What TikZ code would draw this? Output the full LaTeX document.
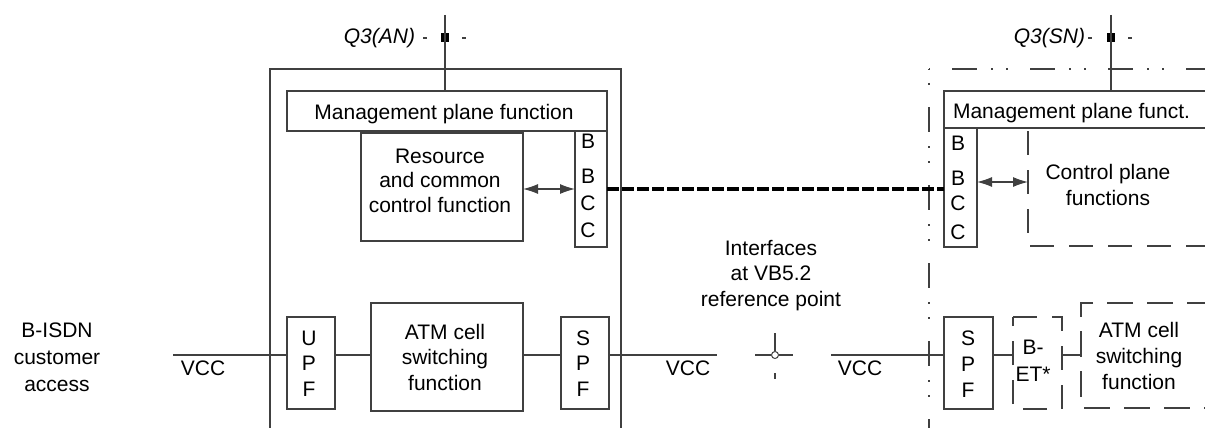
\documentclass[tikz,border=0pt]{standalone}
\usepackage{fontspec}
\setmainfont{Liberation Sans}
\usetikzlibrary{arrows.meta}
\begin{document}
\begin{tikzpicture}[x=1pt,y=-1pt,
  ln/.style={draw=black!75, line width=1.2pt},
  box/.style={ln, rectangle, inner sep=0pt, outer sep=0pt},
  hid/.style={rectangle, inner sep=0pt, outer sep=0pt},
  txt/.style={inner sep=0pt, outer sep=0pt, font=\fontsize{21}{25.5}\selectfont, align=center, anchor=base, text=black},
  dsh/.style={ln, dash pattern=on 24pt off 15pt},
  dashdot/.style={ln, dash pattern=on 25pt off 14pt on 2pt off 13pt on 2pt off 22pt},
  biarrow/.style={ln, {Latex[length=15pt,width=10pt]}-{Latex[length=15pt,width=10pt]}},
  bus/.style={draw=black, line width=3.5pt, dash pattern=on 11.5pt off 3.5pt},
  sq/.style={fill=black, minimum width=8pt, minimum height=9pt, inner sep=0pt}
]
\useasboundingbox (0,0) rectangle (1205,428);
\clip (0,0) rectangle (1205,428);

% ---------------- AN side ----------------
\node[box, minimum width=351pt, minimum height=371pt] (anBox) at (445.5,254.5) {};
\node[box, minimum width=320pt, minimum height=40pt] (mgA) at (447,111) {};
\node[txt] (mgAt) at (444,119) {Management plane function};
\node[box, minimum width=162pt, minimum height=108pt] (resA) at (442,187) {};
\node[txt, font=\fontsize{21}{24.5}\selectfont] (resAt) at (440,212) {Resource\\and common\\control function};
\node[box, minimum width=32pt, minimum height=116pt] (bbA) at (591,189) {};
\node[txt] (bbA1) at (588,148) {B};
\node[txt] (bbA2) at (588,183) {B};
\node[txt] (bbA3) at (588,210) {C};
\node[txt] (bbA4) at (588,237) {C};

\node[box, minimum width=48pt, minimum height=92pt] (upf) at (311,363) {};
\node[txt] (upft) at (309,396) {U\\P\\F};
\node[box, minimum width=152pt, minimum height=108pt] (atmA) at (447,357) {};
\node[txt] (atmAt) at (445,390) {ATM cell\\switching\\function};
\node[box, minimum width=48pt, minimum height=92pt] (spfA) at (585,363) {};
\node[txt] (spfAt) at (583,396) {S\\P\\F};

% Q3(AN)
\node[sq] (q3a) at (445,38) {};
\node[txt, anchor=base east, font=\fontsize{21}{25.5}\selectfont\itshape] (q3at) at (415,44) {Q3(AN)};
\coordinate (q3aTop) at (445,15);
\draw[ln] (q3aTop) -- (q3aTop |- mgA.north);
\draw[ln] (423,38) -- (427,38);
\draw[ln] (462,38) -- (466,38);

% ---------------- left labels ----------------
\node[txt, font=\fontsize{21}{27}\selectfont] (bisdn) at (57,391) {B-ISDN\\customer\\access};
\node[txt] (vcc1) at (203,375) {VCC};
\coordinate (vccL) at (173,355);
\draw[ln] (vccL) -- (upf.west |- vccL);
\draw[ln] (upf.east |- vccL) -- (atmA.west |- vccL);
\draw[ln] (atmA.east |- vccL) -- (spfA.west |- vccL);
\coordinate (vccM) at (717,355);
\draw[ln] (spfA.east |- vccL) -- (vccM);
\node[txt] (vcc2) at (688,375) {VCC};

% interface point
\node[txt] (ift) at (771,306) {Interfaces\\at VB5.2\\reference point};
\node[draw=black!75, line width=1pt, circle, minimum size=7pt, inner sep=0pt] (ip) at (775,355) {};
\coordinate (ipL) at (755,355);
\coordinate (ipR) at (793,355);
\coordinate (ipT) at (775,333);
\draw[ln] (ipL) -- (ip.west);
\draw[ln] (ip.east) -- (ipR);
\draw[ln] (ipT) -- (ip.north);
\draw[ln] (775,373) -- (775,379);

\coordinate (vccN) at (831,355);
\node[txt] (vcc3) at (860,375) {VCC};

% ---------------- SN side ----------------
\coordinate (snC) at (929,69);
\draw[dashdot, dash phase=55pt] (snC) -- (1210,69);
\draw[dashdot, dash phase=40pt] (snC) -- (929,440);

\node[box, minimum width=271pt, minimum height=37pt] (mgS) at (1079.5,109.5) {};
\node[txt, anchor=base west] (mgSt) at (953,118) {Management plane funct.};
\node[box, minimum width=33pt, minimum height=119pt] (bbS) at (960.5,187.5) {};
\node[txt] (bbS1) at (958,150) {B};
\node[txt] (bbS2) at (958,185) {B};
\node[txt] (bbS3) at (958,210) {C};
\node[txt] (bbS4) at (958,239) {C};

% Q3(SN)
\node[sq] (q3s) at (1111,38) {};
\node[txt, anchor=base east, font=\fontsize{21}{25.5}\selectfont\itshape] (q3st) at (1085,44) {Q3(SN)};
\coordinate (q3sTop) at (1111,15);
\draw[ln] (q3sTop) -- (q3sTop |- mgS.north);
\draw[ln] (1088,38) -- (1092,38);
\draw[ln] (1128,38) -- (1132,38);

% control plane functions (open dashed box)
\node[hid, minimum width=187pt, minimum height=115pt] (ctl) at (1121.5,188.5) {};
\draw[dsh] (ctl.north west) -- (ctl.south west) -- (ctl.south east);
\node[txt] (ctlt) at (1108,205) {Control plane\\functions};
\coordinate (ctlW) at (1028,182);
\draw[biarrow] (bbS.east |- ctlW) -- (ctlW);

\node[box, minimum width=49pt, minimum height=92pt] (spfS) at (968.5,363) {};
\node[txt, font=\fontsize{21}{26}\selectfont] (spfSt) at (968,397) {S\\P\\F};
\node[hid, minimum width=49pt, minimum height=92pt] (bet) at (1037.5,363) {};
\draw[dsh] (bet.north west) -- (bet.north east) -- (bet.south east) -- (bet.south west) -- cycle;
\node[txt, font=\fontsize{21}{27}\selectfont] (bett) at (1033,381) {B-\\ET*};
\node[hid, minimum width=134pt, minimum height=105pt] (atmS) at (1148,355.5) {};
\draw[ln, dash pattern=on 26pt off 14pt, dash phase=38pt] (atmS.north east) -- (atmS.north west) -- (atmS.south west) -- (atmS.south east);
\node[txt, font=\fontsize{21}{26}\selectfont] (atmSt) at (1139,389) {ATM cell\\switching\\function};

\draw[ln] (vccN) -- (spfS.west |- vccN);
\draw[ln] (spfS.east |- vccN) -- (bet.west |- vccN);
\draw[ln] (bet.east |- vccN) -- (atmS.west |- vccN);

% AN internal arrow and inter-node bus
\draw[biarrow] (resA.east |- bbA.center) -- (bbA.west);
\draw[bus] (bbA.east) -- (bbS.west |- bbA.east);
\end{tikzpicture}
\end{document}
